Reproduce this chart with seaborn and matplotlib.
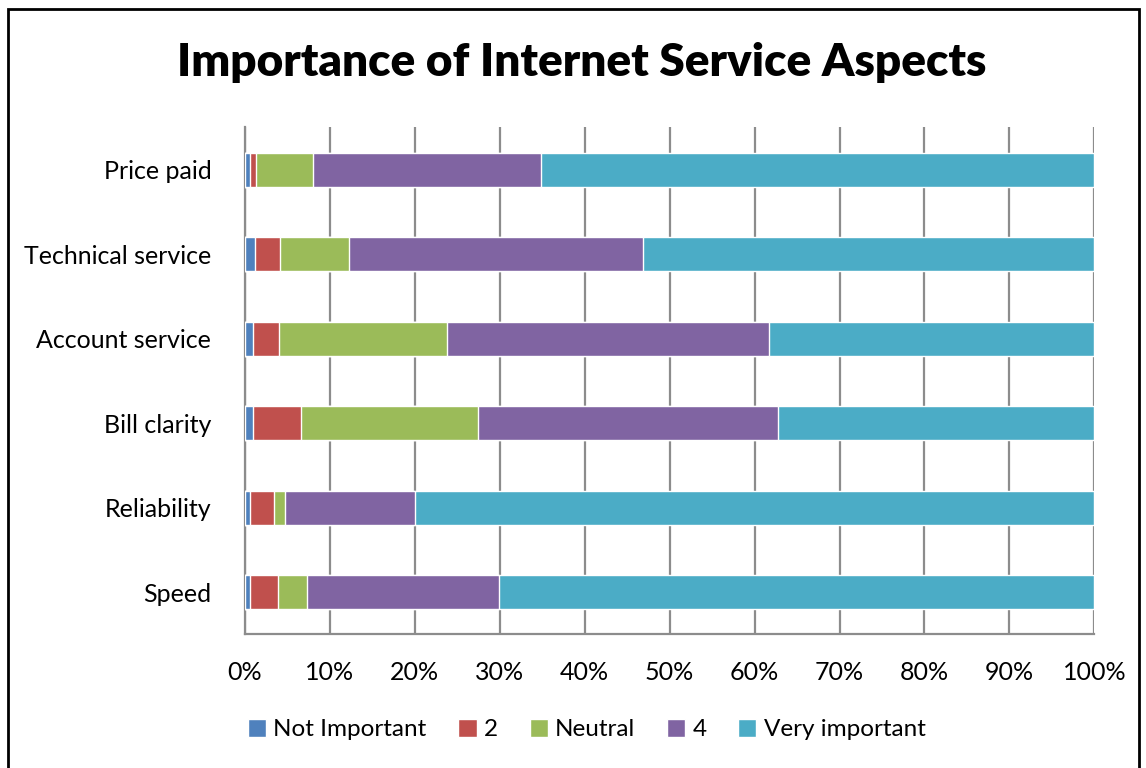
import numpy as np
import pandas as pd
import matplotlib
matplotlib.use("Agg")
import matplotlib.pyplot as plt
from matplotlib.patches import Rectangle, Patch
from matplotlib.ticker import FixedLocator, PercentFormatter
import seaborn as sns

# ---- data (percent of respondents) ----
aspects = ["Price paid", "Technical service", "Account service",
           "Bill clarity", "Reliability", "Speed"]
levels = ["Not Important", "2", "Neutral", "4", "Very important"]
not_important = [0.6, 1.2, 1.0, 1.0, 0.6, 0.6]
two           = [0.7, 2.9, 3.0, 5.6, 2.8, 3.3]
neutral       = [6.7, 8.2, 19.8, 20.9, 1.4, 3.4]
four          = [26.9, 34.6, 37.9, 35.3, 15.3, 22.6]
very_imp      = [65.1, 53.1, 38.3, 37.2, 79.9, 70.1]
colors = ["#4F81BD", "#C0504D", "#9BBB59", "#8064A2", "#4BACC6"]

df = pd.DataFrame({"aspect": aspects, "Not Important": not_important, "2": two,
                   "Neutral": neutral, "4": four, "Very important": very_imp})
cum = df[levels].cumsum(axis=1)

sns.set_style("white")
plt.rcParams["font.family"] = ["Lato", "DejaVu Sans"]
plt.rcParams["text.color"] = "black"
plt.rcParams["xtick.labelcolor"] = "black"
plt.rcParams["ytick.labelcolor"] = "black"

fig = plt.figure(figsize=(11.46, 7.68), dpi=100)
ax = fig.add_axes([0.2135, 0.174, 0.7415, 0.66])

# draw stacked bars: widest cumulative first, then overlay smaller ones
for lvl, col in reversed(list(zip(levels, colors))):
    sns.barplot(x=cum[lvl], y=df["aspect"], orient="h", color=col,
                width=0.4, saturation=1, ax=ax, zorder=3)

ax.set_xlim(0, 100)
ax.set_ylim(5.5, -0.5)
ax.xaxis.set_major_locator(FixedLocator(np.arange(0, 101, 10)))
ax.xaxis.set_major_formatter(PercentFormatter(decimals=0))
ax.grid(axis="x", color="#8C8C8C", linewidth=1.6, zorder=0)
ax.set_axisbelow(True)
ax.set_xlabel("")
ax.set_ylabel("")

for s in ["top", "right"]:
    ax.spines[s].set_visible(False)
for s in ["left", "bottom"]:
    ax.spines[s].set_color("#8C8C8C")
    ax.spines[s].set_linewidth(1.6)

ax.tick_params(axis="x", which="major", direction="out", length=8, width=1.6,
               color="#8C8C8C", labelsize=18, pad=11)
ax.tick_params(axis="y", which="major", length=0, labelsize=18, pad=24)
ax.yaxis.set_minor_locator(FixedLocator(np.arange(-0.5, 6, 1)))
ax.tick_params(axis="y", which="minor", direction="out", length=8, width=1.6,
               color="#8C8C8C")

fig.text(0.508, 0.918, "Importance of Internet Service Aspects",
         ha="center", va="center", fontsize=33, fontweight="heavy")

handles = [Patch(facecolor=c, label=l) for l, c in zip(levels, colors)]
fig.legend(handles=handles, loc="center", bbox_to_anchor=(0.512, 0.05),
           ncol=5, frameon=False, fontsize=17.5, handlelength=0.75,
           handleheight=0.75, handletextpad=0.3, columnspacing=1.3)

fig.patches.append(Rectangle((0.007, -0.01), 0.987, 0.998, transform=fig.transFigure,
                             fill=False, edgecolor="black", linewidth=2))

fig.savefig("out.png", dpi=100)
